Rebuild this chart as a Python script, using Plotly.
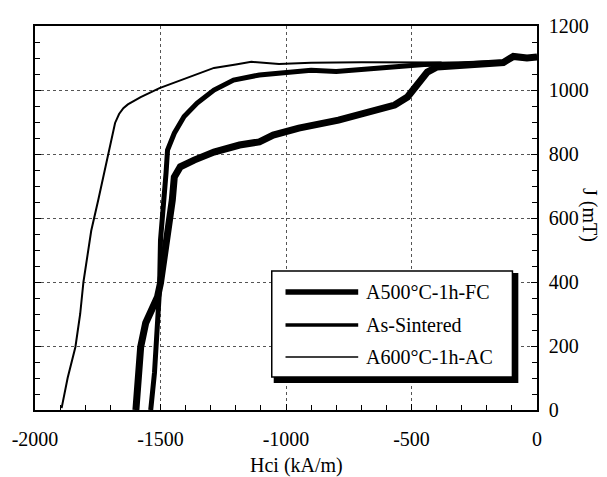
import plotly.graph_objects as go

# ---- data (Hci in kA/m, J in mT) ----
a500_h = [-1598, -1583, -1579, -1559, -1539, -1512, -1500, -1485, -1472, -1461, -1453, -1445,
          -1421, -1366, -1287, -1185, -1106, -1051, -949, -791, -658, -567, -516, -480,
          -437, -398, -300, -200, -134, -94, -40, 0]
a500_j = [0, 116, 197, 272, 312, 353, 397, 470, 531, 600, 656, 728,
          760, 781, 806, 828, 838, 859, 881, 906, 931, 953, 978, 1016,
          1056, 1072, 1078, 1082, 1086, 1105, 1100, 1103]

sint_h = [-1539, -1524, -1516, -1504, -1500, -1484, -1478, -1472, -1445, -1406, -1354, -1287,
          -1209, -1106, -949, -900, -800, -700, -567, -450, -300, -200, -134, -94, -40, 0]
sint_j = [0, 116, 219, 375, 531, 656, 740, 812, 865, 917, 959, 1000,
          1031, 1047, 1056, 1062, 1058, 1064, 1075, 1080, 1082, 1084, 1087, 1105, 1100, 1103]

a600_h = [-1894, -1870, -1839, -1820, -1807, -1790, -1776, -1748, -1720, -1701, -1681, -1665,
          -1648, -1630, -1579, -1504, -1394, -1287, -1200, -1138, -1028, -900, -700, -500, -380]
a600_j = [6, 100, 197, 300, 400, 480, 560, 656, 760, 834, 897, 925,
          943, 955, 978, 1006, 1037, 1069, 1080, 1088, 1081, 1085, 1087, 1085, 1086]

names = ["A500°C-1h-FC", "As-Sintered", "A600°C-1h-AC"]
widths = [7, 5, 2]
legend_widths = [5.5, 3.5, 1.5]

x_ticks = [-2000, -1500, -1000, -500, 0]
x_labels = ["-2000", "-1500", "-1000", "-500", "0"]
y_ticks = [0, 200, 400, 600, 800, 1000, 1200]
y_labels = ["0", "200", "400", "600", "800", "1000", "1200"]

FONT = "Liberation Serif, Times New Roman, serif"
FS = 20

fig = go.Figure()
for hx, jy, nm, w in zip([a500_h, sint_h, a600_h], [a500_j, sint_j, a600_j], names, widths):
    fig.add_trace(go.Scatter(x=hx, y=jy, mode="lines", name=nm,
                             line=dict(color="black", width=w), showlegend=False))

L, R, T, B = 26, 537, 26, 410
W, H = 607, 477


def px(xp):
    return (xp - L) / (R - L)


def py(yp):
    return (B - yp) / (B - T)


fig.update_layout(
    width=W, height=H,
    margin=dict(l=L, r=W - R, t=T, b=H - B),
    paper_bgcolor="white", plot_bgcolor="white",
    font=dict(family=FONT, size=FS, color="black"),
    xaxis=dict(range=[-2000, 0], tickvals=x_ticks, ticktext=x_labels, ticks="inside", ticklen=6,
               tickcolor="black", showline=True, linecolor="black", linewidth=1.5,
               mirror=True, showgrid=True, gridcolor="#555", griddash="dot", gridwidth=1,
               zeroline=False, ticklabelstandoff=10,
               tickfont=dict(family=FONT, size=FS),
               minor=dict(dtick=100, ticks="inside", ticklen=5, tickcolor="black", showgrid=False)),
    yaxis=dict(range=[0, 1200], tickvals=y_ticks, ticktext=y_labels, side="right", ticks="inside", ticklen=6,
               tickcolor="black", showline=True, linecolor="black", linewidth=1.5,
               mirror="allticks", showgrid=True, gridcolor="#555", griddash="dot", gridwidth=1,
               zeroline=False, ticklabelstandoff=6,
               tickfont=dict(family=FONT, size=FS),
               minor=dict(dtick=50, ticks="inside", ticklen=5, tickcolor="black", showgrid=False)),
)

# axis titles
fig.add_annotation(x=px(292), y=py(465), xref="paper", yref="paper", text="Hci (kA/m)",
                   showarrow=False, font=dict(family=FONT, size=FS), xanchor="center", yanchor="middle")
fig.add_annotation(x=px(591), y=py(215), xref="paper", yref="paper", text="J (mT)",
                   showarrow=False, textangle=90, font=dict(family=FONT, size=FS),
                   xanchor="center", yanchor="middle")

# legend box with drop shadow
fig.add_shape(type="rect", xref="paper", yref="paper", x0=px(269), x1=px(518), y0=py(383), y1=py(273),
              fillcolor="black", line=dict(width=0))
fig.add_shape(type="rect", xref="paper", yref="paper", x0=px(267), x1=px(512), y0=py(377), y1=py(271),
              fillcolor="white", line=dict(color="black", width=1.5))
for yy, nm, w in zip([292, 325, 357], names, legend_widths):
    fig.add_shape(type="line", xref="paper", yref="paper", x0=px(281), x1=px(355), y0=py(yy), y1=py(yy),
                  line=dict(color="black", width=w))
    fig.add_annotation(x=px(361), y=py(yy), xref="paper", yref="paper", text=nm, showarrow=False,
                       xanchor="left", yanchor="middle", font=dict(family=FONT, size=FS))

fig.write_html("out.html")
